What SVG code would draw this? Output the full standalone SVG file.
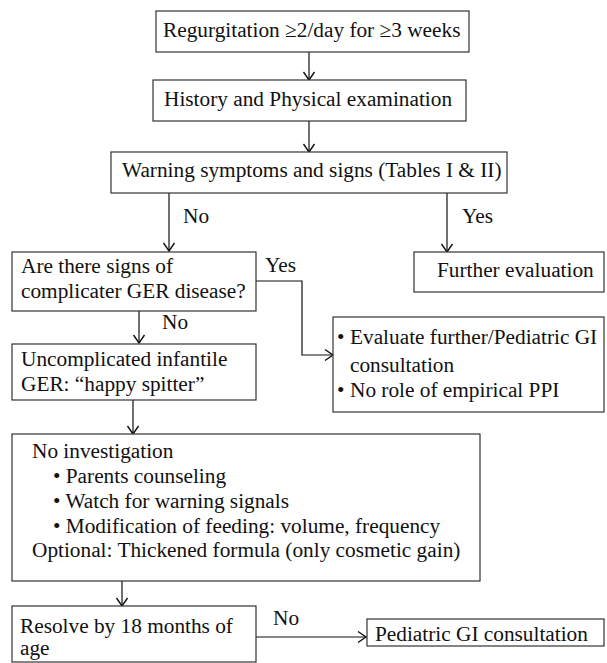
<svg xmlns="http://www.w3.org/2000/svg" width="607" height="663" viewBox="0 0 607 663">
<style>
.box{fill:#fff;stroke:#333;stroke-width:1.2}
text{font-family:'Liberation Serif','Times New Roman',Times,'DejaVu Serif',serif;font-size:21.3px;fill:#111}
.c{fill:none;stroke:#111;stroke-width:1.2}
</style>
<defs>
<marker id="ah" markerUnits="userSpaceOnUse" markerWidth="12" markerHeight="12" refX="0" refY="0" orient="auto" overflow="visible">
<path d="M-8,-5.5 L0,0 L-8,5.5" fill="none" stroke="#111" stroke-width="1.4"/>
</marker>
</defs>
<rect width="607" height="663" fill="#fff"/>
<g id="connectors">
<line class="c" x1="309" y1="52" x2="309" y2="80" marker-end="url(#ah)"/>
<line class="c" x1="309" y1="121" x2="309" y2="152" marker-end="url(#ah)"/>
<line class="c" x1="169" y1="193" x2="169" y2="251" marker-end="url(#ah)"/>
<line class="c" x1="447" y1="193" x2="447" y2="252" marker-end="url(#ah)"/>
<polyline class="c" points="256,281 302,281 302,355 333,355" marker-end="url(#ah)"/>
<line class="c" x1="139" y1="311" x2="139" y2="343" marker-end="url(#ah)"/>
<line class="c" x1="133" y1="400" x2="133" y2="434" marker-end="url(#ah)"/>
<line class="c" x1="122" y1="581" x2="122" y2="606" marker-end="url(#ah)"/>
<line class="c" x1="256" y1="637" x2="366" y2="637" marker-end="url(#ah)"/>
<text x="183" y="223">No</text>
<text x="462" y="223">Yes</text>
<text x="265" y="272">Yes</text>
<text x="162" y="329">No</text>
<text x="273" y="625">No</text>
</g>
<g id="n1">
<rect class="box" x="156" y="11" width="313" height="41"/>
<text x="163" y="37">Regurgitation ≥2/day for ≥3 weeks</text>
</g>
<g id="n2">
<rect class="box" x="153" y="80" width="313" height="41"/>
<text x="164" y="106">History and Physical examination</text>
</g>
<g id="n3">
<rect class="box" x="111" y="152" width="396" height="41"/>
<text x="122" y="177">Warning symptoms and signs (Tables I &amp; II)</text>
</g>
<g id="n4">
<rect class="box" x="414" y="252" width="190" height="40"/>
<text x="437" y="277">Further evaluation</text>
</g>
<g id="n5">
<rect class="box" x="12" y="252" width="244" height="59"/>
<text x="21" y="273">Are there signs of</text>
<text x="21" y="298">complicater GER disease?</text>
</g>
<g id="n6">
<rect class="box" x="333" y="317" width="271" height="95"/>
<text x="337" y="344">•</text>
<text x="350" y="344">Evaluate further/Pediatric GI</text>
<text x="350" y="372">consultation</text>
<text x="337" y="397">•</text>
<text x="350" y="397">No role of empirical PPI</text>
</g>
<g id="n7">
<rect class="box" x="12" y="344" width="244" height="56"/>
<text x="21" y="366">Uncomplicated infantile</text>
<text x="21" y="391">GER: “happy spitter”</text>
</g>
<g id="n8">
<rect class="box" x="12" y="434" width="468" height="147"/>
<text x="32" y="458">No investigation</text>
<text x="53" y="483">• Parents counseling</text>
<text x="53" y="508">• Watch for warning signals</text>
<text x="53" y="533">• Modification of feeding: volume, frequency</text>
<text x="32" y="557">Optional: Thickened formula (only cosmetic gain)</text>
</g>
<g id="n9">
<rect class="box" x="12" y="606" width="244" height="56"/>
<text x="20" y="633">Resolve by 18 months of</text>
<text x="20" y="655">age</text>
</g>
<g id="n10">
<rect class="box" x="367" y="619" width="237" height="27"/>
<text x="375" y="641">Pediatric GI consultation</text>
</g>
</svg>
